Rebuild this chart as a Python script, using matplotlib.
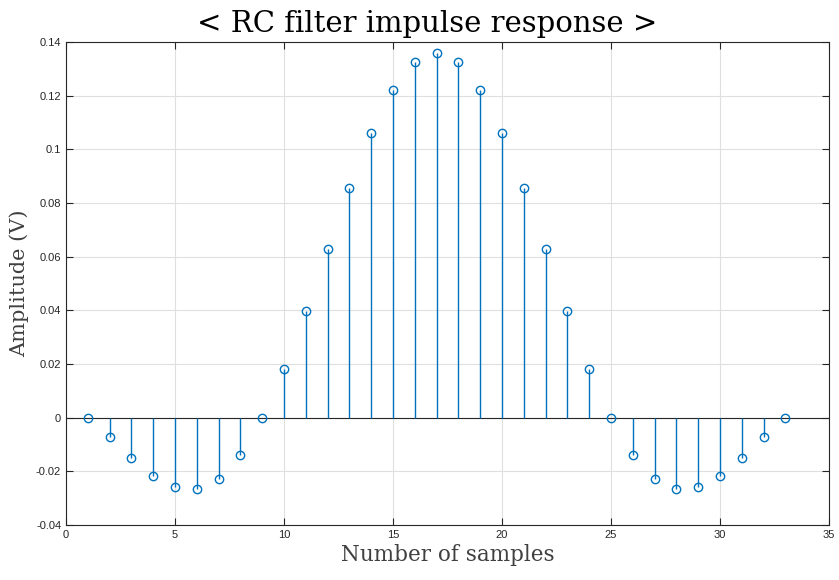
import matplotlib
matplotlib.use("Agg")
import matplotlib.pyplot as plt
import numpy as np

samples = list(range(1, 34))
amplitude = [0.0, -0.0071, -0.0149, -0.0216, -0.0257, -0.0265, -0.0227, -0.0138, 0.0,
             0.0183, 0.0399, 0.0630, 0.0857, 0.1062, 0.1222, 0.1327, 0.1360, 0.1327,
             0.1222, 0.1062, 0.0857, 0.0630, 0.0399, 0.0183, 0.0,
             -0.0138, -0.0227, -0.0265, -0.0257, -0.0216, -0.0149, -0.0071, 0.0]
title = "< RC filter impulse response >"
xlabel = "Number of samples"
ylabel = "Amplitude (V)"
xticks = [0, 5, 10, 15, 20, 25, 30, 35]
yticks = [-0.04, -0.02, 0, 0.02, 0.04, 0.06, 0.08, 0.1, 0.12, 0.14]
yticklabels = ["-0.04", "-0.02", "0", "0.02", "0.04", "0.06", "0.08", "0.1", "0.12", "0.14"]

blue = "#0072BD"
fig = plt.figure(figsize=(8.39, 5.80), dpi=100)
ax = fig.add_axes([0.0787, 0.0948, 0.9093, 0.8328])

markerline, stemlines, baseline = ax.stem(samples, amplitude, basefmt=" ")
plt.setp(stemlines, color=blue, linewidth=1.0)
plt.setp(markerline, marker="o", markersize=6, markerfacecolor="none",
         markeredgecolor=blue, markeredgewidth=1.0)
ax.axhline(0, color="#262626", linewidth=0.8, zorder=1)

ax.set_xlim(0, 35)
ax.set_ylim(-0.04, 0.14)
ax.set_xticks(xticks)
ax.set_yticks(yticks)
ax.set_yticklabels(yticklabels)
ax.grid(True, color="#dfdfdf", linewidth=0.8)
ax.set_axisbelow(True)
ax.tick_params(direction="in", top=True, right=True, length=5, width=0.8,
               colors="#262626", labelsize=8, labelcolor="#262626")
for lab in ax.get_xticklabels() + ax.get_yticklabels():
    lab.set_family("Liberation Sans")
for s in ax.spines.values():
    s.set_color("#262626")
    s.set_linewidth(0.8)

ax.set_title(title, fontsize=21, family="DejaVu Serif", pad=7, x=0.473)
ax.set_xlabel(xlabel, fontsize=15.5, family="DejaVu Serif", color="#404040", labelpad=3)
ax.set_ylabel(ylabel, fontsize=15, family="DejaVu Serif", color="#404040", labelpad=5)

fig.savefig("out.png", dpi=100)
